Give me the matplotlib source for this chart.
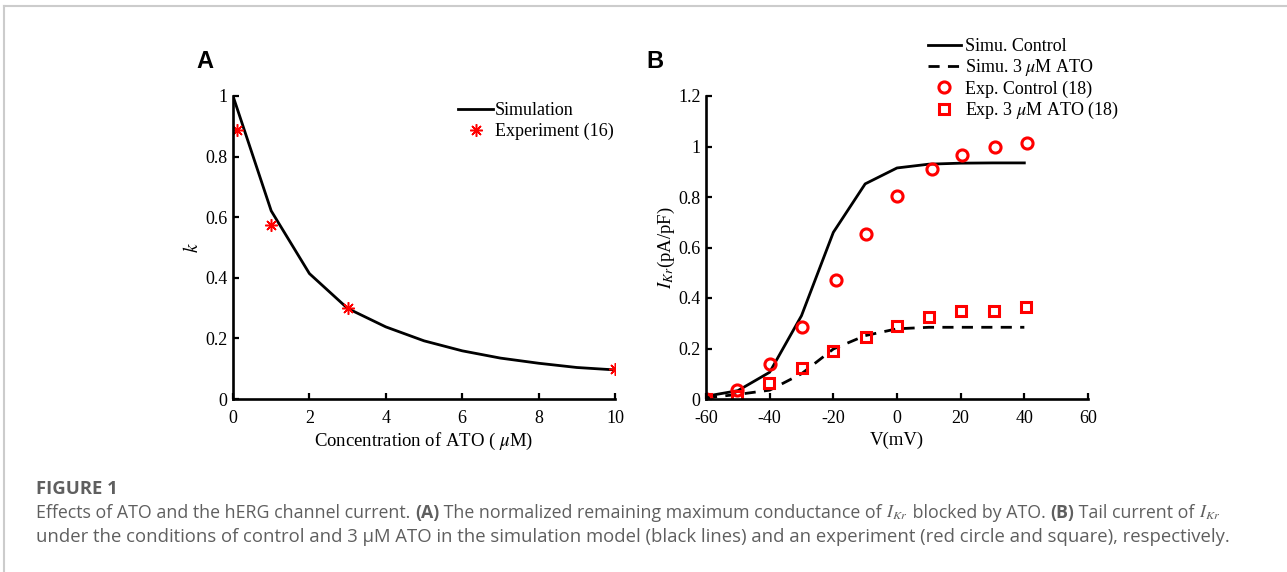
"""Figure 1: ATO block of hERG / IKr, two panels plus caption."""
import numpy as np
import matplotlib
matplotlib.use("Agg")
import matplotlib.pyplot as plt
from matplotlib.lines import Line2D

plt.rcParams["font.family"] = ["Liberation Serif", "DejaVu Serif"]
plt.rcParams["mathtext.fontset"] = "stix"
plt.rcParams["axes.unicode_minus"] = False

# -------------------------------------------------------
# Data.
# -------------------------------------------------------
# panel A: normalized remaining max conductance k vs ATO concentration
conc_sim = [0, 1, 2, 3, 4, 5, 6, 7, 8, 9, 10]
k_sim = [1.0, 0.621, 0.414, 0.299, 0.238, 0.192, 0.159, 0.135, 0.118, 0.104, 0.096]
conc_exp = [0.1, 1, 3, 10]
k_exp = [0.888, 0.575, 0.299, 0.099]

# panel B: IKr tail current vs voltage
v_sim = [-60, -50, -40, -30, -20, -10, 0, 10, 20, 30, 40]
ikr_ctrl_sim = [0.011, 0.033, 0.106, 0.33, 0.66, 0.852, 0.915, 0.93, 0.934, 0.935, 0.935]
ikr_ato_sim = [0.005, 0.018, 0.035, 0.10, 0.198, 0.251, 0.278, 0.284, 0.284, 0.284, 0.284]

v_exp_ctrl = [-60, -50.2, -39.8, -29.8, -19.3, -9.6, 0.1, 10.9, 20.4, 30.9, 40.9]
ikr_ctrl_exp = [0.0, 0.037, 0.139, 0.287, 0.472, 0.654, 0.802, 0.909, 0.965, 0.998, 1.014]
v_exp_ato = [-60, -50.2, -40.1, -29.9, -20.2, -9.8, 0.0, 10.2, 20.0, 30.5, 40.4]
ikr_ato_exp = [0.0, 0.011, 0.062, 0.122, 0.189, 0.247, 0.291, 0.326, 0.35, 0.35, 0.363]

# -------------------------------------------------------
# Plot.
# -------------------------------------------------------
fig = plt.figure(figsize=(12.87, 5.72), dpi=100)
W, H = 1287, 572

def style_axes(ax):
    for s in ("top", "right"):
        ax.spines[s].set_visible(False)
    for s in ("left", "bottom"):
        ax.spines[s].set_linewidth(1.9)
    ax.tick_params(direction="in", length=4, width=1.6, labelsize=13)
    ax.tick_params(axis="x", pad=8)
    ax.tick_params(axis="y", pad=4)

# --- panel A ---
axA = fig.add_axes([233/W, 1-399/H, 382/W, 303/H])
axA.plot(conc_sim, k_sim, color="black", lw=2, label="Simulation")
axA.plot(conc_exp, k_exp, ls="none", marker=(8, 2, 0), color="red",
         markersize=9, markeredgewidth=1.1, label="Experiment (16)")
axA.set_xlim(0, 10)
axA.set_ylim(0, 1)
axA.set_xticks([0, 2, 4, 6, 8, 10])
axA.set_yticks([0, 0.2, 0.4, 0.6, 0.8, 1])
axA.set_yticklabels(["0", "0.2", "0.4", "0.6", "0.8", "1"])
axA.set_xlabel(r"Concentration of ATO ( $\mu$M)", fontsize=13.5, labelpad=3)
axA.set_ylabel(r"$k$", fontsize=14, labelpad=2)
style_axes(axA)
axA.legend(loc="upper left", bbox_to_anchor=(225/382, 1 - 6/303), frameon=False,
           fontsize=13, handlelength=1.95, handletextpad=0.1,
           labelspacing=0.22, borderaxespad=0, borderpad=0)

# --- panel B ---
axB = fig.add_axes([706/W, 1-399/H, 382/W, 303/H])
axB.plot(v_sim, ikr_ctrl_sim, color="black", lw=2, label="Simu. Control")
axB.plot(v_sim, ikr_ato_sim, color="black", lw=2, ls=(0, (4, 3)),
         label=r"Simu. 3 $\mu$M ATO")
axB.plot(v_exp_ctrl, ikr_ctrl_exp, ls="none", marker="o", markersize=8,
         markerfacecolor="none", markeredgecolor="red", markeredgewidth=2.2,
         label="Exp. Control (18)")
axB.plot(v_exp_ato, ikr_ato_exp, ls="none", marker="s", markersize=7,
         markerfacecolor="none", markeredgecolor="red", markeredgewidth=2.2,
         label=r"Exp. 3 $\mu$M ATO (18)")
axB.set_xlim(-60, 60)
axB.set_ylim(0, 1.2)
axB.set_xticks([-60, -40, -20, 0, 20, 40, 60])
axB.set_yticks([0, 0.2, 0.4, 0.6, 0.8, 1, 1.2])
axB.set_yticklabels(["0", "0.2", "0.4", "0.6", "0.8", "1", "1.2"])
axB.set_xlabel("V(mV)", fontsize=13.5, labelpad=3)
axB.set_ylabel(r"$I_{Kr}$(pA/pF)", fontsize=13.5, labelpad=1)
style_axes(axB)
fig.legend(*axB.get_legend_handles_labels(), loc="upper left",
           bbox_to_anchor=(928/W, 1-38/H), frameon=False, fontsize=13,
           handlelength=1.8, handletextpad=0.25, labelspacing=0.12,
           borderaxespad=0, borderpad=0)

# panel letters
fig.text(196/W, 1-68/H, "A", family="Liberation Sans", weight="bold", fontsize=17)
fig.text(646/W, 1-68/H, "B", family="Liberation Sans", weight="bold", fontsize=17)

# light grey frame (top and left edges)
fig.add_artist(Line2D([4/W, 1], [1-5.5/H, 1-5.5/H], transform=fig.transFigure,
                      color="#cccccc", lw=1.5))
fig.add_artist(Line2D([4/W, 4/W], [0, 1-5.5/H], transform=fig.transFigure,
                      color="#cccccc", lw=1.5))

# -------------------------------------------------------
# Caption.
# -------------------------------------------------------
cap_color = "#5f5f5f"
cap_font = ["Open Sans", "DejaVu Sans"]
line1 = [
    ("Effects of ATO and the hERG channel current. ", False),
    ("(A)", True),
    (" The normalized remaining maximum conductance of ", False),
    ("$I_{Kr}$", False),
    (" blocked by ATO. ", False),
    ("(B)", True),
    (" Tail current of ", False),
    ("$I_{Kr}$", False),
]
line2 = [("under the conditions of control and 3 \u00b5M ATO in the simulation model "
          "(black lines) and an experiment (red circle and square), respectively.", False)]

renderer = fig.canvas.get_renderer()

def caption_line(pieces, y_px, size):
    x = 36
    for txt, bold in pieces:
        t = fig.text(x/W, 1-y_px/H, txt, family=cap_font, fontsize=size,
                     color=cap_color, weight="bold" if bold else "normal")
        x += t.get_window_extent(renderer).width
    return x - 36

def fit_size(pieces, target_px):
    # draw once at size 10 off-canvas, measure, then scale to the target width
    n0 = len(fig.texts)
    w = caption_line(pieces, 2000, 10)
    for t in fig.texts[n0:]:
        t.remove()
    return 10 * target_px / w

size1 = fit_size(line1, 1180)
size2 = fit_size(line2, 1188)
fig.text(36/W, 1-494/H, "FIGURE 1", family=cap_font, fontsize=size2,
         color=cap_color, weight="bold")
caption_line(line1, 518, size1)
caption_line(line2, 542, size2)

fig.savefig("out.png", dpi=100)
